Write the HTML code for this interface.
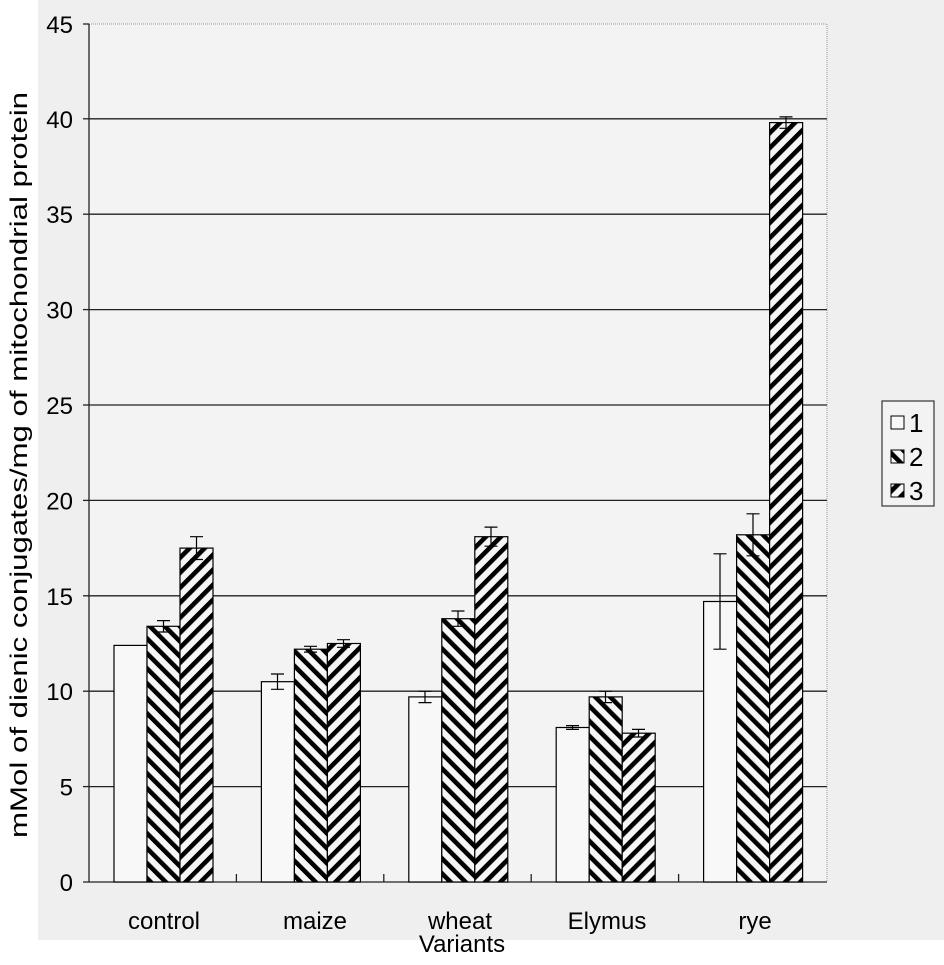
<!DOCTYPE html>
<html><head><meta charset="utf-8"><style>body{margin:0;background:#fff}svg{display:block}</style></head><body>
<svg width="944" height="965" viewBox="0 0 944 965" xmlns="http://www.w3.org/2000/svg" font-family="Liberation Sans, Arial, sans-serif">
<defs>
<pattern id="p2" width="10.6" height="10.6" patternUnits="userSpaceOnUse" patternTransform="rotate(-45)"><rect width="10.6" height="10.6" fill="#f6f6f6"/><rect width="4.6" height="10.6" fill="#000"/></pattern>
<pattern id="p3" width="10.6" height="10.6" patternUnits="userSpaceOnUse" patternTransform="rotate(45)"><rect width="10.6" height="10.6" fill="#f6f6f6"/><rect width="4.6" height="10.6" fill="#000"/></pattern>
</defs>
<rect width="944" height="965" fill="#fff"/>
<rect x="38" y="0" width="906" height="940" fill="#efefef"/>
<rect x="89" y="24" width="738" height="858" fill="#f3f3f3" stroke="#999" stroke-dasharray="1,1"/>
<g stroke="#222" stroke-width="1.3">
<line x1="89" y1="786.6" x2="827" y2="786.6"/><line x1="89" y1="691.2" x2="827" y2="691.2"/><line x1="89" y1="595.8" x2="827" y2="595.8"/><line x1="89" y1="500.4" x2="827" y2="500.4"/><line x1="89" y1="405" x2="827" y2="405"/><line x1="89" y1="309.6" x2="827" y2="309.6"/><line x1="89" y1="214.2" x2="827" y2="214.2"/><line x1="89" y1="118.8" x2="827" y2="118.8"/>
<line x1="89" y1="24" x2="89" y2="882"/><line x1="83" y1="882" x2="827" y2="882"/>
<line x1="83" y1="786.6" x2="89" y2="786.6"/><line x1="83" y1="691.2" x2="89" y2="691.2"/><line x1="83" y1="595.8" x2="89" y2="595.8"/><line x1="83" y1="500.4" x2="89" y2="500.4"/><line x1="83" y1="405" x2="89" y2="405"/><line x1="83" y1="309.6" x2="89" y2="309.6"/><line x1="83" y1="214.2" x2="89" y2="214.2"/><line x1="83" y1="118.8" x2="89" y2="118.8"/><line x1="83" y1="24" x2="89" y2="24"/>
<line x1="236.4" y1="874" x2="236.4" y2="882"/><line x1="383.8" y1="874" x2="383.8" y2="882"/><line x1="531.2" y1="874" x2="531.2" y2="882"/><line x1="678.6" y1="874" x2="678.6" y2="882"/>
</g>
<g stroke="#000" stroke-width="1.2">
<rect x="114" y="645.4" width="33" height="236.6" fill="#f8f8f8"/>
<rect x="147" y="626.3" width="33" height="255.7" fill="url(#p2)"/>
<rect x="180" y="548.1" width="33" height="333.9" fill="url(#p3)"/>
<rect x="261.4" y="681.7" width="33" height="200.3" fill="#f8f8f8"/>
<rect x="294.4" y="649.2" width="33" height="232.8" fill="url(#p2)"/>
<rect x="327.4" y="643.5" width="33" height="238.5" fill="url(#p3)"/>
<rect x="408.8" y="696.9" width="33" height="185.1" fill="#f8f8f8"/>
<rect x="441.8" y="618.7" width="33" height="263.3" fill="url(#p2)"/>
<rect x="474.8" y="536.7" width="33" height="345.3" fill="url(#p3)"/>
<rect x="556.2" y="727.5" width="33" height="154.5" fill="#f8f8f8"/>
<rect x="589.2" y="696.9" width="33" height="185.1" fill="url(#p2)"/>
<rect x="622.2" y="733.2" width="33" height="148.8" fill="url(#p3)"/>
<rect x="703.6" y="601.5" width="33" height="280.5" fill="#f8f8f8"/>
<rect x="736.6" y="534.8" width="33" height="347.2" fill="url(#p2)"/>
<rect x="769.6" y="122.6" width="33" height="759.4" fill="url(#p3)"/>
</g>
<g stroke="#000" stroke-width="1.2" fill="none">
<path d="M157,620.6h13M163.5,620.6v11.4M157,632h13"/>
<path d="M190,536.7h13M196.5,536.7v22.8M190,559.5h13"/>
<path d="M271,674h13M277.5,674v15.3M271,689.3h13"/>
<path d="M304,646.3h13M310.5,646.3v5.8M304,652.1h13"/>
<path d="M337,639.7h13M343.5,639.7v7.6M337,647.3h13"/>
<path d="M418.5,691.2h13M425,691.2v11.4M418.5,702.6h13"/>
<path d="M451.5,611h13M458,611v15.3M451.5,626.3h13"/>
<path d="M484.5,527.1h13M491,527.1v19.1M484.5,546.2h13"/>
<path d="M566,725.6h13M572.5,725.6v3.8M566,729.4h13"/>
<path d="M599,691.2h13M605.5,691.2v11.4M599,702.6h13"/>
<path d="M632,729.4h13M638.5,729.4v7.6M632,737h13"/>
<path d="M713.5,553.8h13M720,553.8v95.4M713.5,649.2h13"/>
<path d="M746.5,513.8h13M753,513.8v42M746.5,555.8h13"/>
<path d="M779.5,116.9h13M786,116.9v11.4M779.5,128.3h13"/>
</g>
<g font-size="24" fill="#000" text-anchor="end">
<text x="73" y="891">0</text><text x="73" y="795.6">5</text><text x="73" y="700.2">10</text><text x="73" y="604.8">15</text><text x="73" y="509.4">20</text><text x="73" y="414">25</text><text x="73" y="318.6">30</text><text x="73" y="223.2">35</text><text x="73" y="127.8">40</text><text x="73" y="33">45</text>
</g>
<g font-size="24" fill="#000" text-anchor="middle">
<text x="164" y="929">control</text><text x="315" y="929">maize</text><text x="460" y="929">wheat</text><text x="607" y="929">Elymus</text><text x="755" y="929">rye</text>
<text x="462" y="952">Variants</text>
<text transform="translate(27,465) rotate(-90)" font-size="24" textLength="746" lengthAdjust="spacingAndGlyphs">mMol of dienic conjugates/mg of mitochondrial protein</text>
</g>
<rect x="882" y="401" width="52" height="105" fill="#f3f3f3" stroke="#333" stroke-width="1.2"/>
<rect x="891" y="416" width="13" height="13" fill="#f8f8f8" stroke="#000"/>
<rect x="891" y="450" width="13" height="13" fill="url(#p2)" stroke="#000"/>
<rect x="891" y="484" width="13" height="13" fill="url(#p3)" stroke="#000"/>
<g font-size="26" fill="#000"><text x="909" y="432">1</text><text x="909" y="466">2</text><text x="909" y="500">3</text></g>
</svg>
</body></html>
